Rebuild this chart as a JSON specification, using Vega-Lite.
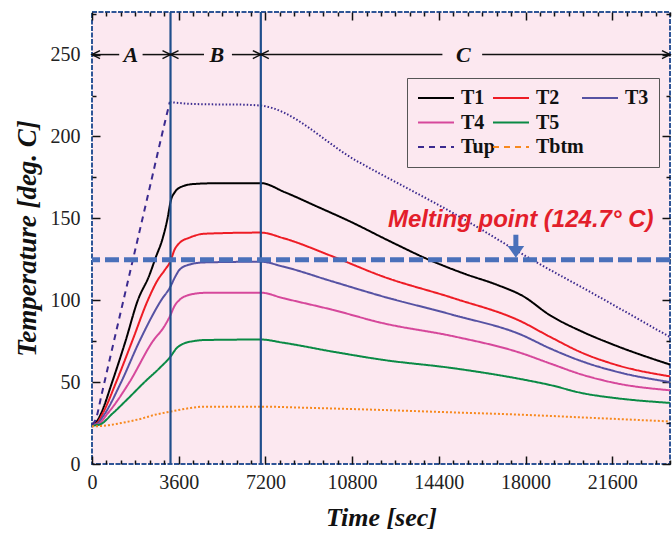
{
  "$schema": "https://vega.github.io/schema/vega-lite/v6.json",
  "width": 578,
  "height": 452,
  "autosize": {"type": "none"},
  "padding": {"left": 92, "top": 12, "right": 2, "bottom": 69},
  "background": "#ffffff",
  "config": {
    "view": {"fill": "#FCE8F0", "stroke": "#2F5597", "strokeWidth": 2, "strokeDash": [5, 1.5]}
  },
  "datasets": {
    "curves": [
      {"series": "T1", "time": 0, "temp": 24}, {"series": "T1", "time": 200, "temp": 26}, {"series": "T1", "time": 380, "temp": 31}, {"series": "T1", "time": 837, "temp": 50}, {"series": "T1", "time": 1391, "temp": 75}, {"series": "T1", "time": 1903, "temp": 100}, {"series": "T1", "time": 2374, "temp": 115}, {"series": "T1", "time": 2651, "temp": 126.3}, {"series": "T1", "time": 2928, "temp": 137.5}, {"series": "T1", "time": 3135, "temp": 149.8}, {"series": "T1", "time": 3274, "temp": 160.9}, {"series": "T1", "time": 3440, "temp": 166}, {"series": "T1", "time": 3700, "temp": 169.2}, {"series": "T1", "time": 4250, "temp": 171}, {"series": "T1", "time": 5350, "temp": 171.5}, {"series": "T1", "time": 7010, "temp": 171.5}, {"series": "T1", "time": 8000, "temp": 166}, {"series": "T1", "time": 9300, "temp": 157.5}, {"series": "T1", "time": 10800, "temp": 147.5}, {"series": "T1", "time": 12300, "temp": 136.5}, {"series": "T1", "time": 13950, "temp": 125}, {"series": "T1", "time": 15500, "temp": 116}, {"series": "T1", "time": 16800, "temp": 109.5}, {"series": "T1", "time": 17900, "temp": 102.5}, {"series": "T1", "time": 19000, "temp": 91}, {"series": "T1", "time": 20400, "temp": 80.5}, {"series": "T1", "time": 21800, "temp": 72}, {"series": "T1", "time": 24000, "temp": 60.7},
      {"series": "T2", "time": 0, "temp": 24}, {"series": "T2", "time": 200, "temp": 25}, {"series": "T2", "time": 450, "temp": 31}, {"series": "T2", "time": 1003, "temp": 50}, {"series": "T2", "time": 1668, "temp": 75}, {"series": "T2", "time": 2319, "temp": 100}, {"series": "T2", "time": 2734, "temp": 112.5}, {"series": "T2", "time": 3000, "temp": 118}, {"series": "T2", "time": 3260, "temp": 124}, {"series": "T2", "time": 3426, "temp": 130.8}, {"series": "T2", "time": 3634, "temp": 135}, {"series": "T2", "time": 4049, "temp": 138.2}, {"series": "T2", "time": 4658, "temp": 140.6}, {"series": "T2", "time": 7010, "temp": 141.3}, {"series": "T2", "time": 7924, "temp": 138}, {"series": "T2", "time": 10000, "temp": 126.7}, {"series": "T2", "time": 12077, "temp": 114.5}, {"series": "T2", "time": 15000, "temp": 101.3}, {"series": "T2", "time": 17824, "temp": 87}, {"series": "T2", "time": 19000, "temp": 77.8}, {"series": "T2", "time": 20383, "temp": 67.7}, {"series": "T2", "time": 21770, "temp": 60.5}, {"series": "T2", "time": 24000, "temp": 53.5},
      {"series": "T3", "time": 0, "temp": 24}, {"series": "T3", "time": 200, "temp": 24.5}, {"series": "T3", "time": 500, "temp": 30}, {"series": "T3", "time": 1211, "temp": 50}, {"series": "T3", "time": 1973, "temp": 75}, {"series": "T3", "time": 2873, "temp": 100}, {"series": "T3", "time": 3260, "temp": 108.4}, {"series": "T3", "time": 3426, "temp": 113.5}, {"series": "T3", "time": 3634, "temp": 118.6}, {"series": "T3", "time": 4049, "temp": 121.8}, {"series": "T3", "time": 4658, "temp": 123.1}, {"series": "T3", "time": 7010, "temp": 123.5}, {"series": "T3", "time": 7924, "temp": 120.6}, {"series": "T3", "time": 10000, "temp": 111.4}, {"series": "T3", "time": 12077, "temp": 102.3}, {"series": "T3", "time": 15000, "temp": 91}, {"series": "T3", "time": 17824, "temp": 78.9}, {"series": "T3", "time": 19000, "temp": 70.7}, {"series": "T3", "time": 20383, "temp": 62.5}, {"series": "T3", "time": 21770, "temp": 56.4}, {"series": "T3", "time": 24000, "temp": 50},
      {"series": "T4", "time": 0, "temp": 24}, {"series": "T4", "time": 200, "temp": 24}, {"series": "T4", "time": 657, "temp": 31}, {"series": "T4", "time": 1557, "temp": 50}, {"series": "T4", "time": 2527, "temp": 75}, {"series": "T4", "time": 3000, "temp": 84}, {"series": "T4", "time": 3260, "temp": 91}, {"series": "T4", "time": 3426, "temp": 96.5}, {"series": "T4", "time": 3634, "temp": 100.2}, {"series": "T4", "time": 4049, "temp": 103.3}, {"series": "T4", "time": 4658, "temp": 104.5}, {"series": "T4", "time": 7010, "temp": 104.6}, {"series": "T4", "time": 7924, "temp": 101.3}, {"series": "T4", "time": 10000, "temp": 94.1}, {"series": "T4", "time": 12077, "temp": 86}, {"series": "T4", "time": 15000, "temp": 78}, {"series": "T4", "time": 17824, "temp": 67.7}, {"series": "T4", "time": 19000, "temp": 61.5}, {"series": "T4", "time": 20383, "temp": 54.4}, {"series": "T4", "time": 21770, "temp": 49.3}, {"series": "T4", "time": 24000, "temp": 45},
      {"series": "T5", "time": 0, "temp": 23.5}, {"series": "T5", "time": 300, "temp": 24}, {"series": "T5", "time": 865, "temp": 31}, {"series": "T5", "time": 1500, "temp": 40}, {"series": "T5", "time": 2180, "temp": 50}, {"series": "T5", "time": 2800, "temp": 58.5}, {"series": "T5", "time": 3260, "temp": 65.6}, {"series": "T5", "time": 3500, "temp": 70.5}, {"series": "T5", "time": 3800, "temp": 73.5}, {"series": "T5", "time": 4200, "temp": 75}, {"series": "T5", "time": 4658, "temp": 75.7}, {"series": "T5", "time": 7010, "temp": 76}, {"series": "T5", "time": 7924, "temp": 74.1}, {"series": "T5", "time": 10000, "temp": 68.6}, {"series": "T5", "time": 12077, "temp": 63.6}, {"series": "T5", "time": 15000, "temp": 58.5}, {"series": "T5", "time": 17824, "temp": 51.8}, {"series": "T5", "time": 19000, "temp": 48.3}, {"series": "T5", "time": 20383, "temp": 43.2}, {"series": "T5", "time": 21770, "temp": 40.2}, {"series": "T5", "time": 24000, "temp": 37.3},
      {"series": "Tup", "time": 0, "temp": 24}, {"series": "Tup", "time": 150, "temp": 27}, {"series": "Tup", "time": 400, "temp": 42.5}, {"series": "Tup", "time": 800, "temp": 68}, {"series": "Tup", "time": 1600, "temp": 118.5}, {"series": "Tup", "time": 2400, "temp": 169}, {"series": "Tup", "time": 3000, "temp": 207}, {"series": "Tup", "time": 3230, "temp": 221},
      {"series": "Tup dotted", "time": 3230, "temp": 221}, {"series": "Tup dotted", "time": 4000, "temp": 220}, {"series": "Tup dotted", "time": 5000, "temp": 219.6}, {"series": "Tup dotted", "time": 6000, "temp": 219.5}, {"series": "Tup dotted", "time": 7010, "temp": 218.8}, {"series": "Tup dotted", "time": 11000, "temp": 185}, {"series": "Tup dotted", "time": 15500, "temp": 149}, {"series": "Tup dotted", "time": 18000, "temp": 127}, {"series": "Tup dotted", "time": 21000, "temp": 102.5}, {"series": "Tup dotted", "time": 24000, "temp": 77.5},
      {"series": "Tbtm dotted", "time": 0, "temp": 23}, {"series": "Tbtm dotted", "time": 600, "temp": 23.5}, {"series": "Tbtm dotted", "time": 1200, "temp": 25}, {"series": "Tbtm dotted", "time": 2000, "temp": 27.5}, {"series": "Tbtm dotted", "time": 2600, "temp": 30}, {"series": "Tbtm dotted", "time": 3260, "temp": 32}, {"series": "Tbtm dotted", "time": 4000, "temp": 34}, {"series": "Tbtm dotted", "time": 4658, "temp": 35}, {"series": "Tbtm dotted", "time": 7010, "temp": 35}, {"series": "Tbtm dotted", "time": 9000, "temp": 34.3}, {"series": "Tbtm dotted", "time": 12000, "temp": 33}, {"series": "Tbtm dotted", "time": 15000, "temp": 31.5}, {"series": "Tbtm dotted", "time": 18000, "temp": 30}, {"series": "Tbtm dotted", "time": 21000, "temp": 28}, {"series": "Tbtm dotted", "time": 24000, "temp": 26}
    ],
    "phases": [{"time": 3260}, {"time": 7010}],
    "segments": [
      {"start": 0, "end": 1130, "temp": 250}, {"start": 2100, "end": 3260, "temp": 250},
      {"start": 3260, "end": 4650, "temp": 250}, {"start": 5810, "end": 7010, "temp": 250},
      {"start": 7010, "end": 14550, "temp": 250}, {"start": 16200, "end": 24000, "temp": 250}
    ],
    "heads": [
      {"time": 0, "temp": 250, "dir": "left"}, {"time": 3260, "temp": 250, "dir": "right"},
      {"time": 3260, "temp": 250, "dir": "left"}, {"time": 7010, "temp": 250, "dir": "right"},
      {"time": 7010, "temp": 250, "dir": "left"}, {"time": 24000, "temp": 250, "dir": "right"}
    ],
    "phaseLabels": [
      {"label": "A", "time": 1610, "temp": 250}, {"label": "B", "time": 5180, "temp": 250}, {"label": "C", "time": 15420, "temp": 250}
    ]
  },
  "resolve": {"axis": {"x": "independent", "y": "independent"}},
  "layer": [
    {
      "data": {"name": "curves"},
      "mark": {"type": "line", "strokeWidth": 2, "interpolate": "monotone"},
      "encoding": {
        "x": {"field": "time", "type": "quantitative", "scale": {"domain": [0, 24000], "nice": false, "zero": false},
          "axis": {"orient": "bottom", "values": [0,600,1200,1800,2400,3000,3600,4200,4800,5400,6000,6600,7200,7800,8400,9000,9600,10200,10800,11400,12000,12600,13200,13800,14400,15000,15600,16200,16800,17400,18000,18600,19200,19800,20400,21000,21600,22200,22800,23400,24000],
            "format": "d", "labelExpr": "datum.value % 3600 === 0 ? datum.label : ''",
            "tickSize": {"condition": {"test": "datum.value % 3600 === 0", "value": -8}, "value": -4},
            "tickColor": "#111", "tickWidth": 1.5, "domain": false, "grid": false,
            "labelFont": "Liberation Serif", "labelFontSize": 20, "labelColor": "#222", "labelPadding": 16, "labelOverlap": false, "labelFlush": false,
            "title": "Time [sec]", "titleFont": "Liberation Serif", "titleFontSize": 26, "titleFontWeight": "bold", "titleFontStyle": "italic", "titleColor": "#111", "titlePadding": 8}},
        "y": {"field": "temp", "type": "quantitative", "scale": {"domain": [0, 276], "nice": false},
          "axis": {"orient": "left", "values": [0,25,50,75,100,125,150,175,200,225,250,275],
            "labelExpr": "datum.value % 50 === 0 ? datum.label : ''",
            "tickSize": {"condition": {"test": "datum.value % 50 === 0", "value": -8}, "value": -4},
            "tickColor": "#111", "tickWidth": 1.5, "domain": false, "grid": false,
            "labelFont": "Liberation Serif", "labelFontSize": 20, "labelColor": "#222", "labelPadding": 20, "labelOverlap": false, "labelFlush": false,
            "title": "Temperature [deg. C]", "titleFont": "Liberation Serif", "titleFontSize": 27, "titleFontWeight": "bold", "titleFontStyle": "italic", "titleColor": "#111", "titlePadding": 9}},
        "color": {"field": "series", "type": "nominal",
          "scale": {"domain": ["T1","T2","T3","T4","T5"," ","Tup","Tbtm","Tup dotted","Tbtm dotted"],
            "range": ["#000000","#EE1C25","#5652A3","#D6489B","#0A8A45","rgba(0,0,0,0)","#3B2A8F","#F7891E","#3B2A8F","#F7891E"]},
          "legend": {"orient": "none", "legendX": 315, "legendY": 66, "columns": 3, "direction": "horizontal", "gridAlign": "none", "title": null,
            "values": ["T1","T2","T3","T4","T5"," ","Tup","Tbtm"],
            "symbolType": "M -1 0 L 3 0", "symbolSize": 324, "symbolStrokeWidth": 2,
            "labelFont": "Liberation Serif", "labelFontSize": 20, "labelFontWeight": "bold", "labelColor": "#111",
            "labelOffset": 24, "columnPadding": -6, "rowPadding": 4.5, "padding": 10,
            "strokeColor": "#555555"}},
        "strokeDash": {"field": "series", "type": "nominal",
          "scale": {"domain": ["T1","T2","T3","T4","T5"," ","Tup","Tbtm","Tup dotted","Tbtm dotted"],
            "range": [[1,0],[1,0],[1,0],[1,0],[1,0],[1,0],[6,5],[6,5],[1.5,2],[2,2]]},
          "legend": {"orient": "none", "legendX": 315, "legendY": 66, "columns": 3, "direction": "horizontal", "gridAlign": "none", "title": null,
            "values": ["T1","T2","T3","T4","T5"," ","Tup","Tbtm"],
            "symbolType": "M -1 0 L 3 0", "symbolSize": 324, "symbolStrokeWidth": 2,
            "labelFont": "Liberation Serif", "labelFontSize": 20, "labelFontWeight": "bold", "labelColor": "#111",
            "labelOffset": 24, "columnPadding": -6, "rowPadding": 4.5, "padding": 10,
            "strokeColor": "#555555"}}
      }
    },
    {
      "data": {"name": "phases"},
      "mark": {"type": "rule", "color": "#1F4E8C", "strokeWidth": 2.2},
      "encoding": {
        "x": {"field": "time", "type": "quantitative", "scale": {"domain": [0, 24000], "nice": false, "zero": false}, "axis": null}
      }
    },
    {
      "data": {"values": [{"temp": 124.7}]},
      "mark": {"type": "rule", "color": "#4A70BA", "strokeWidth": 5, "strokeDash": [14, 5]},
      "encoding": {
        "y": {"field": "temp", "type": "quantitative", "scale": {"domain": [0, 276], "nice": false}, "axis": null}
      }
    },
    {
      "data": {"name": "segments"},
      "mark": {"type": "rule", "color": "#111111", "strokeWidth": 1.5},
      "encoding": {
        "x": {"field": "start", "type": "quantitative", "scale": {"domain": [0, 24000], "nice": false, "zero": false},
          "axis": {"orient": "top", "values": [0,600,1200,1800,2400,3000,3600,4200,4800,5400,6000,6600,7200,7800,8400,9000,9600,10200,10800,11400,12000,12600,13200,13800,14400,15000,15600,16200,16800,17400,18000,18600,19200,19800,20400,21000,21600,22200,22800,23400,24000],
            "labels": false, "tickSize": {"condition": {"test": "datum.value % 3600 === 0", "value": -8}, "value": -4},
            "tickColor": "#111", "tickWidth": 1.5, "domain": false, "grid": false, "title": null}},
        "x2": {"field": "end"},
        "y": {"field": "temp", "type": "quantitative", "scale": {"domain": [0, 276], "nice": false},
          "axis": {"orient": "right", "values": [0,25,50,75,100,125,150,175,200,225,250,275],
            "labels": false, "tickSize": {"condition": {"test": "datum.value % 50 === 0", "value": -8}, "value": -4},
            "tickColor": "#111", "tickWidth": 1.5, "domain": false, "grid": false, "title": null}}
      }
    },
    {
      "data": {"name": "heads"},
      "mark": {"type": "point", "filled": false, "stroke": "#111111", "strokeWidth": 1.5, "size": 64, "opacity": 1},
      "encoding": {
        "x": {"field": "time", "type": "quantitative", "scale": {"domain": [0, 24000], "nice": false, "zero": false}, "axis": null},
        "y": {"field": "temp", "type": "quantitative", "scale": {"domain": [0, 276], "nice": false}, "axis": null},
        "shape": {"field": "dir", "type": "nominal", "scale": {"domain": ["left", "right"], "range": ["M 2 -1 L 0 0 L 2 1", "M -2 -1 L 0 0 L -2 1"]}, "legend": null}
      }
    },
    {
      "data": {"name": "phaseLabels"},
      "mark": {"type": "text", "font": "Liberation Serif", "fontSize": 22, "fontWeight": "bold", "fontStyle": "italic", "color": "#111111", "baseline": "middle", "align": "center"},
      "encoding": {
        "x": {"field": "time", "type": "quantitative", "scale": {"domain": [0, 24000], "nice": false, "zero": false}, "axis": null},
        "y": {"field": "temp", "type": "quantitative", "scale": {"domain": [0, 276], "nice": false}, "axis": null},
        "text": {"field": "label"}
      }
    },
    {
      "data": {"values": [{"label": "Melting point (124.7°  C)", "time": 17800, "temp": 145}]},
      "mark": {"type": "text", "font": "Liberation Sans", "fontSize": 24, "fontWeight": "bold", "fontStyle": "italic", "color": "#E31E2B", "baseline": "alphabetic", "align": "center"},
      "encoding": {
        "x": {"field": "time", "type": "quantitative", "scale": {"domain": [0, 24000], "nice": false, "zero": false}, "axis": null},
        "y": {"field": "temp", "type": "quantitative", "scale": {"domain": [0, 276], "nice": false}, "axis": null},
        "text": {"field": "label"}
      }
    },
    {
      "data": {"values": [{"time": 17600, "top": 140, "bottom": 132}]},
      "mark": {"type": "rule", "color": "#4A70BA", "strokeWidth": 5},
      "encoding": {
        "x": {"field": "time", "type": "quantitative", "scale": {"domain": [0, 24000], "nice": false, "zero": false}, "axis": null},
        "y": {"field": "top", "type": "quantitative", "scale": {"domain": [0, 276], "nice": false}, "axis": null},
        "y2": {"field": "bottom"}
      }
    },
    {
      "data": {"values": [{"time": 17600, "temp": 126}]},
      "mark": {"type": "point", "shape": "M -1 -1.4 L 1 -1.4 L 0 0 Z", "filled": true, "color": "#4A70BA", "size": 279, "opacity": 1},
      "encoding": {
        "x": {"field": "time", "type": "quantitative", "scale": {"domain": [0, 24000], "nice": false, "zero": false}, "axis": null},
        "y": {"field": "temp", "type": "quantitative", "scale": {"domain": [0, 276], "nice": false}, "axis": null}
      }
    }
  ]
}
